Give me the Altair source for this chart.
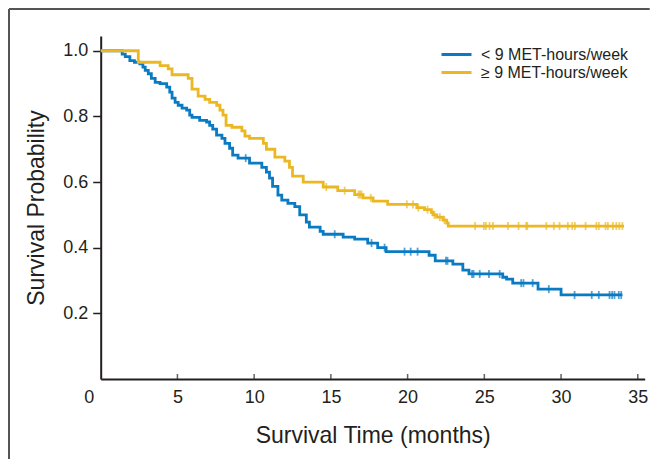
import altair as alt
import pandas as pd

groups = ["< 9 MET-hours/week", "≥ 9 MET-hours/week"]
colors = ["#0A7BC2", "#EBB823"]

# < 9 MET-hours/week : step times and survival
low_t = [0, 1.4, 1.6, 1.9, 2.2, 2.55, 2.75, 2.9, 3.1, 3.3, 3.55, 3.87, 4.3, 4.5, 4.65, 4.85,
         5.05, 5.3, 5.6, 5.8, 5.95, 6.45, 6.9, 7.1, 7.3, 7.55, 7.9, 8.1, 8.4, 8.6, 8.95, 9.7,
         10.5, 10.8, 11.0, 11.2, 11.55, 11.8, 12.2, 12.65, 12.97, 13.4, 13.6, 14.3, 14.5,
         15.8, 16.55, 17.4, 18.05, 18.6, 21.4, 21.8, 22.95, 23.6, 24.0, 26.2, 26.45, 26.85,
         28.5, 30.0]
low_s = [1.0, 0.99, 0.982, 0.97, 0.965, 0.96, 0.95, 0.94, 0.93, 0.916, 0.904, 0.90, 0.889,
         0.874, 0.856, 0.843, 0.834, 0.825, 0.819, 0.804, 0.797, 0.788, 0.783, 0.773, 0.761,
         0.743, 0.733, 0.718, 0.703, 0.682, 0.673, 0.658, 0.645, 0.63, 0.612, 0.587, 0.56,
         0.545, 0.535, 0.525, 0.50, 0.478, 0.463, 0.45, 0.441, 0.432, 0.426, 0.414, 0.40,
         0.388, 0.377, 0.36, 0.35, 0.332, 0.32, 0.31, 0.304, 0.292, 0.274, 0.256]
low_end = 34.0
low_cens = [9.45, 15.25, 17.65, 18.5, 19.8, 20.2, 20.65, 22.5, 22.6, 24.2, 24.3, 24.7, 25.3,
            26.0, 27.4, 27.55, 28.15, 29.2, 30.88, 32.0, 32.46, 33.16, 33.33, 33.48, 33.76,
            33.92]

# >= 9 MET-hours/week
high_t = [0, 2.45, 3.87, 4.4, 4.65, 5.7, 5.95, 6.35, 6.8, 7.1, 7.56, 7.77, 7.97, 8.17, 8.55,
          9.2, 9.4, 9.7, 10.6, 10.8, 11.35, 12.0, 12.3, 12.5, 13.2, 14.5, 15.45, 16.55, 17.1,
          17.75, 18.7, 20.6, 21.1, 21.55, 21.65, 21.9, 22.3, 22.55, 22.65]
high_s = [1.0, 0.965, 0.955, 0.945, 0.927, 0.916, 0.883, 0.862, 0.852, 0.843, 0.834, 0.819,
          0.804, 0.773, 0.767, 0.756, 0.74, 0.733, 0.718, 0.70, 0.676, 0.664, 0.645, 0.618,
          0.60, 0.585, 0.574, 0.562, 0.552, 0.542, 0.532, 0.522, 0.516, 0.508, 0.50, 0.493,
          0.484, 0.475, 0.466]
high_end = 34.1
high_cens = [14.7, 15.9, 16.8, 16.9, 17.0, 17.6, 19.95, 20.35, 20.7, 21.3, 21.75, 22.1, 22.4,
             24.4, 24.97, 25.1, 25.34, 25.56, 26.54, 27.23, 27.73, 27.8, 29.04, 29.53, 29.9,
             30.44, 30.73, 30.9, 31.6, 32.3, 32.46, 32.9, 33.05, 33.38, 33.6, 33.8, 34.0]

x_ticks = [0, 5, 10, 15, 20, 25, 30, 35]
y_ticks = [0.2, 0.4, 0.6, 0.8, 1.0]

W, H = 544, 343
TXT = "#231f20"
FONT = "Liberation Sans"


def steps(ts, ss, end, g):
    rows = [{"t": t, "s": s, "g": g} for t, s in zip(ts, ss)]
    rows.append({"t": end, "s": ss[-1], "g": g})
    return rows


def cens(ts, ss, cs, g):
    out = []
    for c in cs:
        v = ss[0]
        for t, s in zip(ts, ss):
            if t <= c:
                v = s
        out.append({"t": c, "s": v, "g": g})
    return out


line_df = pd.DataFrame(steps(low_t, low_s, low_end, groups[0]) +
                       steps(high_t, high_s, high_end, groups[1]))
cens_df = pd.DataFrame(cens(low_t, low_s, low_cens, groups[0]) +
                       cens(high_t, high_s, high_cens, groups[1]))
xt_df = pd.DataFrame({"v": x_ticks[1:]})

xscale = alt.Scale(domain=[0, 35.45], nice=False, zero=False)
yscale = alt.Scale(domain=[0, 1.045], nice=False)
cscale = alt.Scale(domain=groups, range=colors)

xaxis = alt.Axis(values=x_ticks, grid=False, ticks=False, labelFontSize=18,
                 labelFont=FONT, labelColor=TXT, labelPadding=10,
                 labelOffset={"condition": {"test": "datum.value === 0", "value": -17}, "value": 0},
                 domainColor=TXT, domainWidth=2, title="Survival Time (months)",
                 titleFont=FONT, titleFontSize=23, titleFontWeight="normal",
                 titleColor=TXT, titlePadding=18)
yaxis = alt.Axis(values=y_ticks, format=".1f", grid=False, tickSize=8, tickWidth=1.5,
                 tickColor=TXT, labelFontSize=18, labelFont=FONT, labelColor=TXT,
                 labelPadding=5, domainColor=TXT, domainWidth=2,
                 title="Survival Probability", titleFont=FONT,
                 titleFontSize=23, titleFontWeight="normal", titleColor=TXT, titlePadding=14)

lines = alt.Chart(line_df).mark_line(interpolate="step-after", strokeWidth=2.8).encode(
    x=alt.X("t:Q", scale=xscale, axis=xaxis),
    y=alt.Y("s:Q", scale=yscale, axis=yaxis),
    color=alt.Color("g:N", scale=cscale, legend=alt.Legend(
        title=None, orient="none", legendX=346.8, legendY=9.5, symbolType="M-2,0H2",
        symbolSize=225, symbolStrokeWidth=3, labelFontSize=16, labelFont=FONT,
        labelColor=TXT, labelOffset=15.5, rowPadding=1, padding=0)),
    detail="g:N",
)

marks = alt.Chart(cens_df).mark_tick(orient="vertical", size=8, thickness=1.8).encode(
    x=alt.X("t:Q", scale=xscale),
    y=alt.Y("s:Q", scale=yscale),
    color=alt.Color("g:N", scale=cscale, legend=None),
)

xticks = alt.Chart(xt_df).mark_tick(orient="vertical", size=5, thickness=1.5, color=TXT).encode(
    x=alt.X("v:Q", scale=xscale),
    y=alt.value(H - 2.5),
)

frame_df = pd.DataFrame({"k": [1]})
left_border = alt.Chart(frame_df).mark_rule(color="#555555", strokeWidth=2).encode(
    x=alt.value(-91.7), y=alt.value(-27), y2=alt.value(H + 80))
top_border = alt.Chart(frame_df).mark_rule(color="#555555", strokeWidth=2).encode(
    x=alt.value(-91.7), x2=alt.value(W + 5), y=alt.value(-27))

chart = alt.layer(left_border, top_border, xticks, lines, marks).properties(
    width=W, height=H,
    autosize=alt.AutoSizeParams(type="none"),
    padding={"left": 92.7, "top": 28, "right": 5, "bottom": 80},
).configure_view(stroke=None)

chart.save("out.html", embed_options={"renderer": "svg", "actions": False})
